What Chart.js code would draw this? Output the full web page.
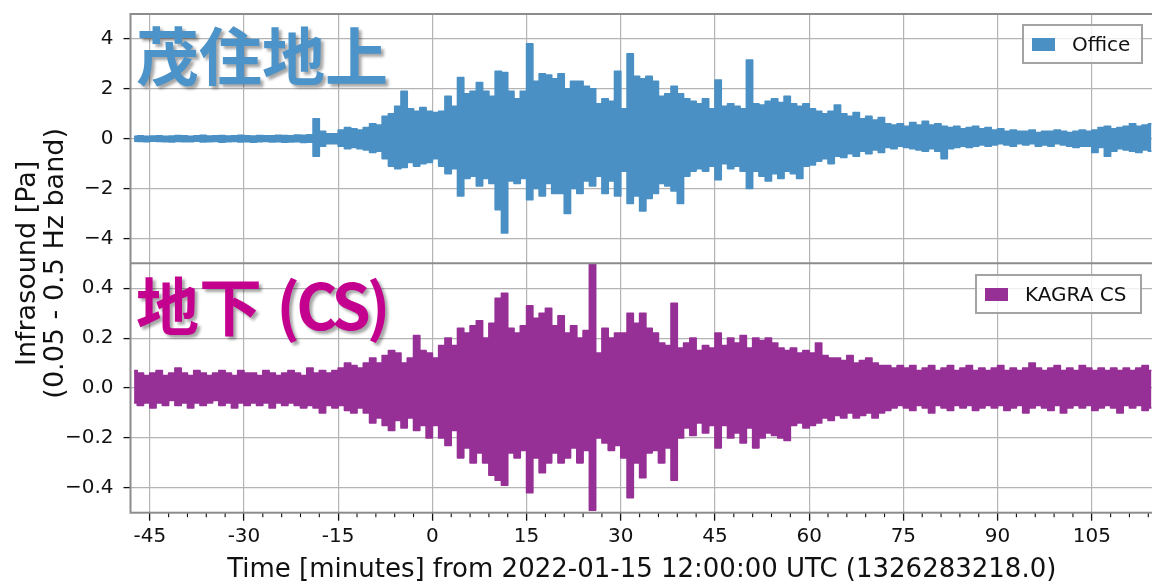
<!DOCTYPE html>
<html>
<head>
<meta charset="utf-8">
<title>Infrasound</title>
<script src="https://cdn.jsdelivr.net/npm/chart.js@4.4.1/dist/chart.umd.min.js"></script>
<style>
  html, body { margin: 0; padding: 0; background: #fff; overflow: hidden; }
  #wrap { position: relative; width: 1152px; height: 586px; overflow: hidden; }
  #wrap canvas { position: absolute; left: 0; top: 0; }
  .big { position: absolute; font-family: "Noto Sans CJK JP", sans-serif; font-weight: 700; font-size: 63px;
         line-height: 1; white-space: nowrap; text-shadow: 3px 3px 3px rgba(0,0,0,.35); }
  .big span { letter-spacing: -4px; }
  .leg { position: absolute; box-sizing: border-box; background: rgba(255,255,255,.8); border: 2px solid #a3a3a3;
         font-family: "DejaVu Sans", sans-serif; font-size: 20px; color: #111; display: flex; align-items: center; }
  .leg i { display: inline-block; width: 23px; height: 13px; margin: 0 17px 0 8px; }
</style>
</head>
<body>
<div id="wrap">
  <canvas id="c" width="1160" height="586"></canvas>
  <div class="big" style="left:136px;top:21px;color:#4b93c8">茂住地上</div>
  <div class="big" style="left:136px;top:271px;color:#c4008f">地下 <span>(CS)</span></div>
  <div class="leg" style="left:1022px;top:24px;width:121px;height:40px"><i style="background:#4a90c4"></i>Office</div>
  <div class="leg" style="left:975px;top:274px;width:167px;height:40px"><i style="background:#963096"></i>KAGRA CS</div>
</div>
<script>
// ── DATA (per-minute max / min of the filtered trace) ──
const T0 = -48;   // minute of the first bin
const X_MIN = -48.07, X_MAX = 114.75;

const X_TICKS = [-45, -30, -15, 0, 15, 30, 45, 60, 75, 90, 105];
const X_LABELS = ['-45', '-30', '-15', '0', '15', '30', '45', '60', '75', '90', '105'];
const Y_TOP_TICKS = [4, 2, 0, -2, -4];
const Y_TOP_LABELS = ['4', '2', '0', '\u22122', '\u22124'];
const Y_BOT_TICKS = [0.4, 0.2, 0, -0.2, -0.4];
const Y_BOT_LABELS = ['0.4', '0.2', '0.0', '\u22120.2', '\u22120.4'];

// Office (茂住地上), Pa
const OFFICE_HI = [
  0.10, 0.12, 0.10, 0.11, 0.12, 0.10, 0.11, 0.13, 0.12, 0.10,
  0.12, 0.14, 0.11, 0.12, 0.13, 0.11, 0.12, 0.14, 0.12, 0.11,
  0.13, 0.12, 0.12, 0.14, 0.13, 0.12, 0.15, 0.14, 0.16, 0.80,
  0.30, 0.20, 0.20, 0.35, 0.45, 0.40, 0.35, 0.45, 0.60, 0.55,
  0.90, 1.00, 1.30, 1.90, 1.20, 1.10, 1.25, 1.10, 1.05, 1.10,
  1.70, 1.30, 2.45, 1.80, 1.90, 2.25, 1.90, 1.70, 2.70, 2.65,
  1.90, 1.60, 1.90, 3.80, 2.30, 2.60, 2.55, 2.40, 2.60, 2.00,
  2.30, 2.30, 2.10, 2.00, 1.40, 1.60, 1.50, 2.70, 1.20, 3.40,
  2.50, 2.40, 2.50, 2.30, 1.70, 1.80, 2.10, 1.80, 1.60, 1.50,
  1.40, 1.60, 1.20, 2.35, 1.30, 1.40, 1.30, 1.20, 3.15, 1.40,
  1.35, 1.50, 1.60, 1.45, 1.70, 1.40, 1.30, 1.40, 1.20, 1.10,
  1.00, 1.10, 1.35, 1.00, 0.90, 1.05, 0.80, 0.90, 0.75, 0.85,
  0.60, 0.55, 0.60, 0.50, 0.65, 0.55, 0.70, 0.55, 0.60, 0.50,
  0.45, 0.50, 0.40, 0.45, 0.50, 0.40, 0.45, 0.35, 0.40, 0.30,
  0.35, 0.30, 0.30, 0.35, 0.25, 0.30, 0.30, 0.35, 0.30, 0.25,
  0.30, 0.35, 0.30, 0.35, 0.45, 0.50, 0.40, 0.45, 0.50, 0.60,
  0.50, 0.55, 0.60
];
const OFFICE_LO = [
  -0.10, -0.11, -0.12, -0.10, -0.11, -0.12, -0.13, -0.11, -0.12, -0.12,
  -0.10, -0.13, -0.12, -0.11, -0.14, -0.12, -0.11, -0.13, -0.12, -0.14,
  -0.12, -0.11, -0.13, -0.12, -0.14, -0.13, -0.12, -0.15, -0.14, -0.70,
  -0.30, -0.20, -0.20, -0.30, -0.40, -0.35, -0.40, -0.45, -0.55, -0.50,
  -0.80, -1.10, -1.20, -1.15, -0.95, -1.10, -1.00, -0.95, -0.80, -1.10,
  -1.40, -1.20, -2.30, -1.60, -1.50, -1.90, -1.60, -1.80, -2.85, -3.78,
  -1.70, -1.80, -1.60, -2.45, -2.00, -2.30, -1.80, -2.20, -2.20, -3.00,
  -2.00, -2.20, -1.70, -1.90, -1.50, -2.20, -1.70, -2.30, -1.30, -2.60,
  -2.30, -2.90, -2.40, -2.20, -1.80, -1.90, -2.10, -2.60, -1.50, -1.30,
  -1.20, -1.30, -1.10, -1.65, -1.00, -1.20, -1.10, -1.30, -2.00, -1.30,
  -1.50, -1.70, -1.40, -1.60, -1.30, -1.40, -1.60, -1.10, -1.05, -0.90,
  -0.80, -1.00, -0.70, -0.75, -0.60, -0.70, -0.50, -0.60, -0.45, -0.55,
  -0.35, -0.40, -0.30, -0.35, -0.40, -0.45, -0.50, -0.40, -0.50, -0.80,
  -0.40, -0.35, -0.30, -0.35, -0.30, -0.25, -0.30, -0.25, -0.20, -0.25,
  -0.30, -0.20, -0.25, -0.20, -0.30, -0.25, -0.30, -0.20, -0.25, -0.30,
  -0.35, -0.30, -0.30, -0.55, -0.35, -0.70, -0.50, -0.40, -0.45, -0.50,
  -0.55, -0.45, -0.50
];

// KAGRA CS (地下), Pa
const CS_HI = [
  0.07, 0.06, 0.05, 0.06, 0.07, 0.05, 0.06, 0.08, 0.06, 0.05,
  0.07, 0.06, 0.05, 0.06, 0.07, 0.06, 0.05, 0.07, 0.06, 0.06,
  0.05, 0.07, 0.06, 0.05, 0.06, 0.07, 0.06, 0.05, 0.08, 0.06,
  0.07, 0.06, 0.07, 0.08, 0.10, 0.09, 0.08, 0.10, 0.12, 0.10,
  0.13, 0.15, 0.14, 0.10, 0.12, 0.21, 0.15, 0.14, 0.12, 0.17,
  0.20, 0.17, 0.24, 0.22, 0.25, 0.27, 0.20, 0.26, 0.36, 0.38,
  0.24, 0.22, 0.25, 0.33, 0.28, 0.30, 0.32, 0.25, 0.29, 0.22,
  0.25, 0.20, 0.23, 0.50, 0.14, 0.24, 0.20, 0.22, 0.22, 0.30,
  0.26, 0.30, 0.24, 0.22, 0.18, 0.17, 0.34, 0.16, 0.18, 0.20,
  0.15, 0.17, 0.16, 0.22, 0.17, 0.20, 0.18, 0.21, 0.16, 0.20,
  0.19, 0.20, 0.18, 0.16, 0.15, 0.16, 0.14, 0.15, 0.14, 0.18,
  0.13, 0.12, 0.12, 0.11, 0.13, 0.10, 0.11, 0.12, 0.10, 0.09,
  0.09, 0.08, 0.09, 0.08, 0.09, 0.07, 0.08, 0.09, 0.07, 0.08,
  0.09, 0.07, 0.08, 0.09, 0.07, 0.08, 0.07, 0.08, 0.09, 0.07,
  0.08, 0.07, 0.08, 0.10, 0.08, 0.07, 0.08, 0.09, 0.07, 0.08,
  0.07, 0.09, 0.08, 0.07, 0.08, 0.07, 0.08, 0.07, 0.08, 0.07,
  0.08, 0.09, 0.07
];
const CS_LO = [
  -0.06, -0.07, -0.06, -0.08, -0.06, -0.07, -0.05, -0.07, -0.06, -0.08,
  -0.06, -0.07, -0.06, -0.05, -0.07, -0.06, -0.08, -0.06, -0.07, -0.06,
  -0.07, -0.06, -0.08, -0.06, -0.07, -0.06, -0.07, -0.08, -0.07, -0.08,
  -0.10, -0.07, -0.08, -0.07, -0.09, -0.10, -0.08, -0.10, -0.14, -0.12,
  -0.15, -0.17, -0.13, -0.16, -0.12, -0.17, -0.15, -0.20, -0.15, -0.20,
  -0.23, -0.17, -0.28, -0.24, -0.30, -0.26, -0.30, -0.35, -0.37, -0.39,
  -0.26, -0.28, -0.25, -0.42, -0.28, -0.34, -0.30, -0.26, -0.30, -0.28,
  -0.24, -0.30, -0.25, -0.49, -0.20, -0.22, -0.25, -0.23, -0.28, -0.44,
  -0.30, -0.36, -0.26, -0.25, -0.30, -0.24, -0.37, -0.20, -0.16, -0.19,
  -0.14, -0.18, -0.15, -0.24, -0.15, -0.20, -0.18, -0.22, -0.16, -0.24,
  -0.20, -0.18, -0.19, -0.20, -0.21, -0.15, -0.14, -0.16, -0.15, -0.14,
  -0.12, -0.13, -0.11, -0.12, -0.10, -0.12, -0.11, -0.10, -0.12, -0.10,
  -0.09, -0.08, -0.07, -0.08, -0.09, -0.07, -0.08, -0.10, -0.07, -0.08,
  -0.09, -0.07, -0.08, -0.07, -0.09, -0.08, -0.07, -0.08, -0.07, -0.09,
  -0.08, -0.07, -0.10, -0.08, -0.07, -0.08, -0.09, -0.07, -0.10, -0.08,
  -0.07, -0.08, -0.07, -0.09, -0.08, -0.07, -0.08, -0.10, -0.07, -0.08,
  -0.07, -0.09, -0.08
];

const BLUE = '#4a90c4';
const PURPLE = '#963096';
const GRID = '#b4b4b4';
const SPINE = '#8c8c8c';

const minuteMid = i => T0 + i + 0.5;
const pts = arr => arr.map((v, i) => ({ x: minuteMid(i), y: v }));

// upper envelope filled down to the lower one, stepped per minute
function band(label, hi, lo, axis, color) {
  const line = { yAxisID: axis, borderColor: color, borderWidth: 1.6, borderJoinStyle: 'round',
                 pointRadius: 0, stepped: 'middle' };
  return [
    { ...line, label, data: pts(hi), fill: '+1', backgroundColor: color },
    { ...line, label: label + ' min', data: pts(lo), fill: false }
  ];
}

const TICK_FONT = { family: 'DejaVu Sans', size: 20 };

function yAxis(min, max, ticks, labels) {
  return {
    type: 'linear', position: 'left', stack: 'panels', stackWeight: 1, z: 1,
    min, max,
    afterBuildTicks: s => { s.ticks = ticks.map(v => ({ value: v })); },
    afterFit: s => { s.width = 130.5; s.paddingTop = 0; s.paddingBottom = 0; },
    ticks: { font: TICK_FONT, color: '#111', padding: 10, callback: (v, i) => labels[i] },
    grid: { color: GRID, lineWidth: 1.2, tickColor: '#111', tickLength: 7, tickWidth: 1.3 },
    border: { display: false }
  };
}

// spines, panel divider, minor x ticks, stacked y title
const frame = {
  id: 'frame',
  afterDraw(chart) {
    const { ctx, chartArea: a, scales } = chart;
    const mid = scales.yTop.bottom;
    ctx.save();
    ctx.strokeStyle = '#111';
    ctx.lineWidth = 1.1;
    for (let v = -48; v <= 114; v += 3) {
      if (v % 15 === 0) continue;
      const px = scales.x.getPixelForValue(v);
      if (px < a.left + 1 || px > a.right) continue;
      ctx.beginPath();
      ctx.moveTo(px, a.bottom);
      ctx.lineTo(px, a.bottom + 4.5);
      ctx.stroke();
    }
    ctx.strokeStyle = SPINE;
    ctx.lineWidth = 2;
    ctx.strokeRect(a.left, a.top, a.right - a.left, a.bottom - a.top);
    ctx.beginPath();
    ctx.moveTo(a.left, mid);
    ctx.lineTo(a.right, mid);
    ctx.stroke();

    ctx.fillStyle = '#111';
    ctx.font = '27px "DejaVu Sans"';
    ctx.textAlign = 'center';
    ctx.textBaseline = 'middle';
    ctx.translate(42, (a.top + a.bottom) / 2);
    ctx.rotate(-Math.PI / 2);
    ctx.fillText('Infrasound [Pa]', 0, -14);
    ctx.fillText('(0.05 - 0.5 Hz band)', 0, 14);
    ctx.restore();
  }
};

new Chart(document.getElementById('c'), {
  type: 'line',
  data: {
    datasets: [
      ...band('KAGRA CS', CS_HI, CS_LO, 'yBot', PURPLE),
      ...band('Office', OFFICE_HI, OFFICE_LO, 'yTop', BLUE)
    ]
  },
  options: {
    responsive: false,
    animation: false,
    layout: { padding: { left: 0, right: 7, top: 14, bottom: 0 } },
    plugins: { legend: { display: false }, tooltip: { enabled: false } },
    scales: {
      x: {
        type: 'linear', min: X_MIN, max: X_MAX, z: 1,
        afterBuildTicks: s => { s.ticks = X_TICKS.map(v => ({ value: v })); },
        afterFit: s => { s.height = 73.3; s.paddingLeft = 0; s.paddingRight = 0; },
        ticks: { font: TICK_FONT, color: '#111', padding: 4, maxRotation: 0, autoSkip: false,
                 callback: (v, i) => X_LABELS[i] },
        grid: { color: GRID, lineWidth: 1.2, tickColor: '#111', tickLength: 8, tickWidth: 1.3 },
        border: { display: false },
        title: { display: true, text: 'Time [minutes] from 2022-01-15 12:00:00 UTC (1326283218.0)',
                 color: '#111', font: { family: 'DejaVu Sans', size: 26 }, padding: { top: 0, bottom: 0 } }
      },
      yBot: yAxis(-0.5, 0.5, Y_BOT_TICKS, Y_BOT_LABELS),
      yTop: yAxis(-5, 5, Y_TOP_TICKS, Y_TOP_LABELS)
    }
  },
  plugins: [frame]
});
</script>
</body>
</html>
